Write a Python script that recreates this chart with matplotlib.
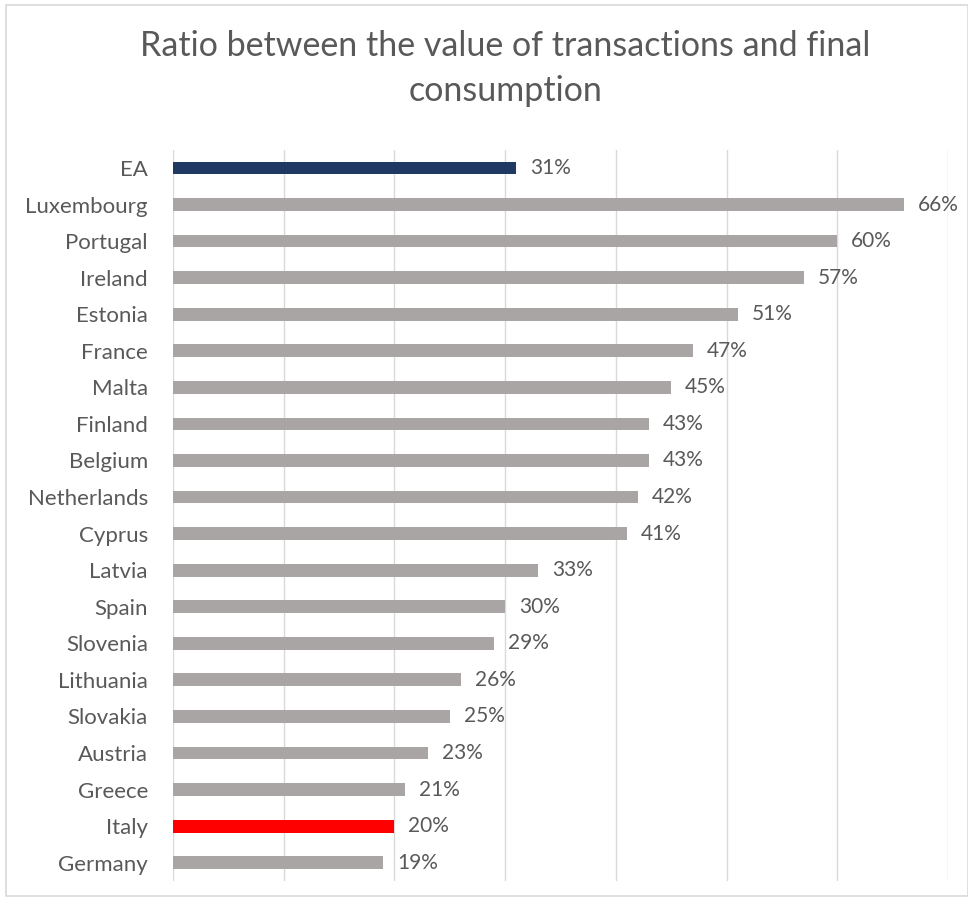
import matplotlib.pyplot as plt
from matplotlib.patches import Rectangle
from matplotlib.ticker import MultipleLocator

# Data (percent)
countries = ["EA", "Luxembourg", "Portugal", "Ireland", "Estonia", "France", "Malta",
             "Finland", "Belgium", "Netherlands", "Cyprus", "Latvia", "Spain", "Slovenia",
             "Lithuania", "Slovakia", "Austria", "Greece", "Italy", "Germany"]
ratios = [31, 66, 60, 57, 51, 47, 45, 43, 43, 42, 41, 33, 30, 29, 26, 25, 23, 21, 20, 19]

GREY = "#A9A5A5"
NAVY = "#1F3864"
RED = "#FF0000"
TEXT = "#595959"
highlight = {"EA": NAVY, "Italy": RED}
colors = [highlight.get(c, GREY) for c in countries]

plt.rcParams["font.family"] = ["Lato", "DejaVu Sans"]

fig = plt.figure(figsize=(9.68, 9.01), dpi=100)
ax = fig.add_axes([0.1787, 0.0222, 0.8006, 0.8117])

ypos = list(range(len(countries)))
ax.barh(ypos, ratios, height=0.35, color=colors, zorder=2)
ax.set_ylim(len(countries) - 0.5, -0.5)
ax.set_xlim(0, 70)

# value labels just right of each bar
for y, v in zip(ypos, ratios):
    ax.annotate(f"{v}%", (v, y), xytext=(10, 0), textcoords="offset points",
                va="center", ha="left", fontsize=15, color=TEXT)

ax.set_yticks(ypos)
ax.set_yticklabels(countries, fontsize=16, color=TEXT)
ax.tick_params(axis="y", length=0, pad=18)
ax.xaxis.set_major_locator(MultipleLocator(10))
ax.tick_params(axis="x", length=0, labelbottom=False)
ax.grid(axis="x", color="#D9D9D9", linewidth=1.0, zorder=0)
for side in ax.spines.values():
    side.set_visible(False)

fig.text(0.522, 1 - 30 / 901, "Ratio between the value of transactions and final\nconsumption",
         ha="center", va="top", fontsize=24.5, color=TEXT, linespacing=1.5)

# light frame around the chart area, as in the source image
fig.patches.append(Rectangle((0.006, 0.006), 0.994, 0.988, transform=fig.transFigure,
                             fill=False, edgecolor="#D9D9D9", linewidth=1.2))

fig.savefig("out.png", dpi=100)
